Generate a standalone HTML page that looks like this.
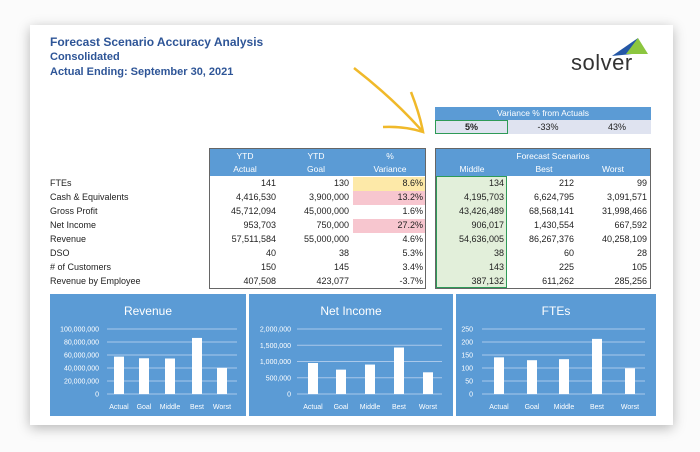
<!DOCTYPE html>
<html><head><meta charset="utf-8"><style>
body{margin:0;width:700px;height:452px;background:#fbfbfb;position:relative;overflow:hidden;font-family:"Liberation Sans",sans-serif;}
.card{position:absolute;left:30px;top:25px;width:643px;height:400px;background:#fff;box-shadow:0 3px 12px rgba(0,0,0,.28);}
.a{position:absolute;white-space:nowrap;}
.t{color:#2e5597;font-weight:bold;font-size:11.5px;}
.c{font-size:9px;color:#222;}
.r{text-align:right;}
.hdr{position:absolute;background:#5b9bd5;}
.w{color:#fff;font-size:8.5px;}
</style></head><body>
<div class="card"></div>
<div class="a t" style="left:50px;top:35px;font-size:12px">Forecast Scenario Accuracy Analysis</div>
<div class="a t" style="left:50px;top:51px;font-size:11px">Consolidated</div>
<div class="a t" style="left:50px;top:66px;font-size:11px">Actual Ending: September 30, 2021</div>
<svg class="a" style="left:560px;top:30px" width="110" height="50">
<polygon points="52,26 78,8 72,24" fill="#2457a6"/><polygon points="66,24 78,8 88,24" fill="#8cc63f"/>
</svg>
<div class="a" style="left:571px;top:50px;font-size:22px;color:#333;letter-spacing:.5px">solver</div>
<svg class="a" style="left:340px;top:60px" width="100" height="80">
<path d="M14,8 Q55,40 83,72" stroke="#f0b92a" stroke-width="2.5" fill="none"/>
<path d="M71,32 Q80,55 83,72 Q65,66 43,67" stroke="#f0b92a" stroke-width="2.5" fill="none"/>
</svg>
<div class="hdr" style="left:435px;top:107px;width:216px;height:13px"></div>
<div class="a w" style="left:435px;top:108px;width:216px;text-align:center">Variance % from Actuals</div>
<div class="a" style="left:435px;top:120px;width:216px;height:14px;background:#dfe3f0"></div>
<div class="a" style="left:435px;top:120px;width:71px;height:12px;border:1.5px solid #2e9a57"></div>
<div class="a c" style="left:435px;top:122px;width:73px;text-align:center;font-weight:bold">5%</div>
<div class="a c" style="left:515px;top:122px;width:66px;text-align:center">-33%</div>
<div class="a c" style="left:585px;top:122px;width:64px;text-align:center">43%</div>
<div class="hdr" style="left:209px;top:148px;width:217px;height:28px"></div>
<div class="a" style="left:209px;top:148px;width:215px;height:139px;border:1px solid #666"></div>
<div class="a w" style="left:225px;top:151px;width:40px;text-align:center">YTD</div>
<div class="a w" style="left:225px;top:164px;width:40px;text-align:center">Actual</div>
<div class="a w" style="left:296px;top:151px;width:40px;text-align:center">YTD</div>
<div class="a w" style="left:296px;top:164px;width:40px;text-align:center">Goal</div>
<div class="a w" style="left:370px;top:151px;width:40px;text-align:center">%</div>
<div class="a w" style="left:370px;top:164px;width:40px;text-align:center">Variance</div>
<div class="a" style="left:353px;top:177px;width:72px;height:14px;background:#fde9a8"></div>
<div class="a" style="left:353px;top:191px;width:72px;height:14px;background:#f7c6cf"></div>
<div class="a" style="left:353px;top:219px;width:72px;height:14px;background:#f7c6cf"></div>
<div class="hdr" style="left:435px;top:148px;width:216px;height:28px"></div>
<div class="a" style="left:435px;top:148px;width:214px;height:139px;border:1px solid #666"></div>
<div class="a w" style="left:435px;top:151px;width:216px;text-align:center;padding-left:20px;box-sizing:border-box">Forecast Scenarios</div>
<div class="a w" style="left:450px;top:164px;width:44px;text-align:center">Middle</div>
<div class="a w" style="left:522px;top:164px;width:44px;text-align:center">Best</div>
<div class="a w" style="left:591px;top:164px;width:44px;text-align:center">Worst</div>
<div class="a" style="left:436px;top:176px;width:69px;height:110px;background:#e2efda;border:1.5px solid #2e9a57"></div>
<div id="rows"></div>
<script>
var rows=[["FTEs","141","130","8.6%","134","212","99"],["Cash & Equivalents","4,416,530","3,900,000","13.2%","4,195,703","6,624,795","3,091,571"],["Gross Profit","45,712,094","45,000,000","1.6%","43,426,489","68,568,141","31,998,466"],["Net Income","953,703","750,000","27.2%","906,017","1,430,554","667,592"],["Revenue","57,511,584","55,000,000","4.6%","54,636,005","86,267,376","40,258,109"],["DSO","40","38","5.3%","38","60","28"],["# of Customers","150","145","3.4%","143","225","105"],["Revenue by Employee","407,508","423,077","-3.7%","387,132","611,262","285,256"]];
var rt=[276,349,423,504,574,647],h="";
rows.forEach(function(r,i){var y=178+i*14;h+='<div class="a c" style="left:50px;top:'+y+'px">'+r[0]+'</div>';
for(var j=1;j<7;j++)h+='<div class="a c r" style="left:'+(rt[j-1]-70)+'px;width:70px;top:'+y+'px">'+r[j]+'</div>';});
document.getElementById('rows').innerHTML=h;
</script>
<svg class="a" style="left:0;top:0" width="700" height="452" font-family="Liberation Sans, sans-serif">
<g id="ch"></g>
</svg>
<script>
var charts=[{x:50,w:196,gx:107,gw:130,lab:99,t:"Revenue",ticks:["0","20,000,000","40,000,000","60,000,000","80,000,000","100,000,000"],max:1e8,v:[57511584,55e6,54636005,86267376,40258109],bx:[114,139,165,192,217]},
{x:249,w:204,gx:297,gw:145,lab:291,t:"Net Income",ticks:["0","500,000","1,000,000","1,500,000","2,000,000"],max:2e6,v:[953703,75e4,906017,1430554,667592],bx:[308,336,365,394,423]},
{x:456,w:200,gx:482,gw:163,lab:473,t:"FTEs",ticks:["0","50","100","150","200","250"],max:250,v:[141,130,134,212,99],bx:[494,527,559,592,625]}];
var s="",names=["Actual","Goal","Middle","Best","Worst"];
charts.forEach(function(c){s+='<rect x="'+c.x+'" y="294" width="'+c.w+'" height="122" fill="#5b9bd5"/>';
s+='<text x="'+(c.x+c.w/2)+'" y="315" fill="#fff" font-size="12" text-anchor="middle">'+c.t+'</text>';
var n=c.ticks.length-1;for(var i=0;i<=n;i++){var y=394-65*i/n;
s+='<line x1="'+c.gx+'" x2="'+(c.gx+c.gw)+'" y1="'+y+'" y2="'+y+'" stroke="#a9c8ea" stroke-width="1"/>';
s+='<text x="'+c.lab+'" y="'+(y+2.5)+'" fill="#fff" font-size="7" text-anchor="end">'+c.ticks[i]+'</text>';}
c.v.forEach(function(v,k){var hh=65*v/c.max;s+='<rect x="'+c.bx[k]+'" y="'+(394-hh)+'" width="10" height="'+hh+'" fill="#fff"/>';
s+='<text x="'+(c.bx[k]+5)+'" y="409" fill="#fff" font-size="7" text-anchor="middle">'+names[k]+'</text>';});});
document.getElementById('ch').innerHTML=s;
</script>
</body></html>
